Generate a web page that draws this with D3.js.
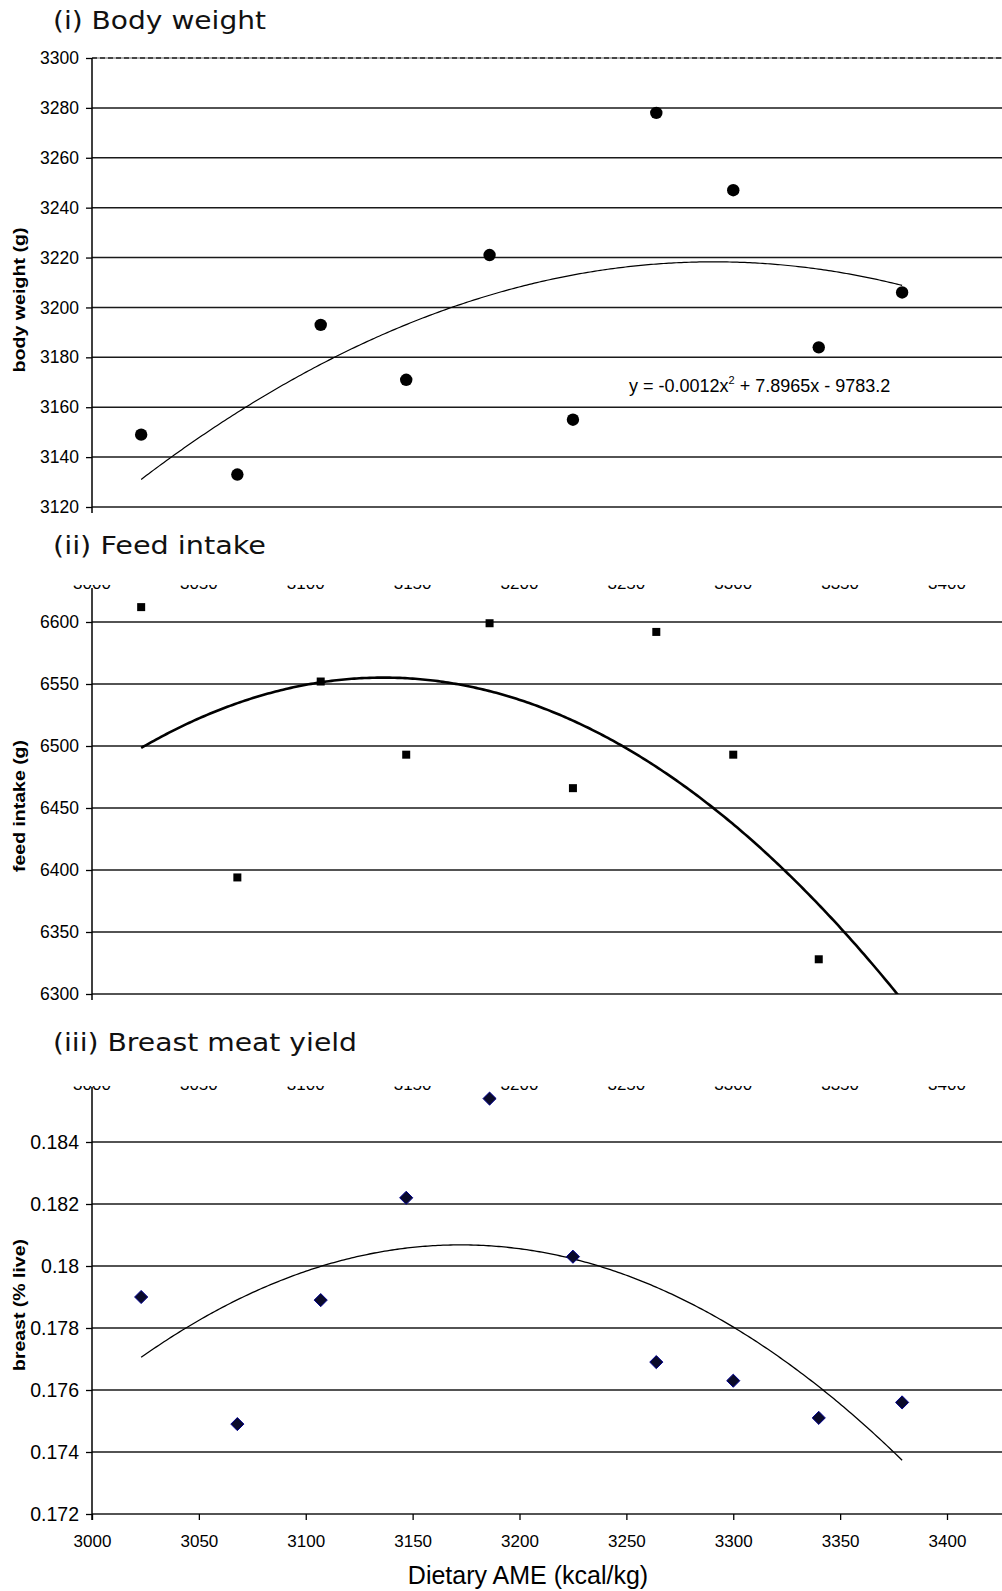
<!DOCTYPE html>
<html>
<head>
<meta charset="utf-8">
<script src="https://cdn.jsdelivr.net/npm/d3@7"></script>
<style>
  body { margin: 0; background: #fff; }
  svg { display: block; }
</style>
</head>
<body>
<svg id="chart" width="1002" height="1591"></svg>
<script>
// Dietary AME levels (kcal/kg) of the ten treatments
const dietaryAME = [3023, 3068, 3107, 3147, 3186, 3225, 3264, 3300, 3340, 3379];
// Responses per treatment
const bodyWeight = [3149, 3133, 3193, 3171, 3221, 3155, 3278, 3247, 3184, 3206];
const feedIntake = [6612, 6394, 6552, 6493, 6599, 6466, 6592, 6493, 6328, 6262];
const breastYield = [0.1790, 0.1749, 0.1789, 0.1822, 0.1854, 0.1803, 0.1769, 0.1763, 0.1751, 0.1756];

// Axis ticks
const xTickValues = [3000, 3050, 3100, 3150, 3200, 3250, 3300, 3350, 3400];
const bodyWeightTicks = [3120, 3140, 3160, 3180, 3200, 3220, 3240, 3260, 3280, 3300];
const feedIntakeTicks = [6300, 6350, 6400, 6450, 6500, 6550, 6600];
const breastTicks = [0.172, 0.174, 0.176, 0.178, 0.180, 0.182, 0.184];
const breastTickLabels = ["0.172", "0.174", "0.176", "0.178", "0.18", "0.182", "0.184"];

// Text
const panelTitles = ["(i)  Body weight", "(ii)  Feed intake", "(iii)  Breast meat yield"];
const yAxisTitles = ["body weight (g)", "feed intake (g)", "breast (% live)"];
const xAxisTitle = "Dietary AME (kcal/kg)";
const equationParts = ["y = -0.0012x", "2", " + 7.8965x - 9783.2"];

const svg = d3.select("#chart");
svg.append("rect").attr("width", 1002).attr("height", 1591).attr("fill", "#fff");

const plotLeft = 92, plotRight = 1002;
const x = d3.scaleLinear().domain([3000, 3400]).range([92, 947]);

const panels = [
  { values: bodyWeight, ticks: bodyWeightTicks, labels: bodyWeightTicks.map(String),
    domain: [3120, 3300], range: [507, 58], top: 58, marker: "circle", trendWidth: 1.2,
    tickFont: 17.5,
    title: panelTitles[0], titleY: 29, titleW: 213, yTitle: yAxisTitles[0], yTitleY: 300, yTitleW: 145 },
  { values: feedIntake, ticks: feedIntakeTicks, labels: feedIntakeTicks.map(String),
    domain: [6300, 6600], range: [994, 622], top: 588, marker: "square", trendWidth: 2.6,
    tickFont: 17.5,
    title: panelTitles[1], titleY: 554, titleW: 213, yTitle: yAxisTitles[1], yTitleY: 806, yTitleW: 132,
    cutLabels: 589 },
  { values: breastYield, ticks: breastTicks, labels: breastTickLabels,
    domain: [0.172, 0.184], range: [1514, 1142], top: 1087, marker: "diamond", trendWidth: 1.3,
    tickFont: 19.5,
    title: panelTitles[2], titleY: 1051, titleW: 304, yTitle: yAxisTitles[2], yTitleY: 1305, yTitleW: 132,
    cutLabels: 1090 }
];

// Least-squares quadratic fit (x centred for stability)
function quadFit(xs, ys) {
  const mx = d3.mean(xs);
  const u = xs.map(v => v - mx);
  const s = k => d3.sum(u, v => Math.pow(v, k));
  const t = k => d3.sum(u, (v, i) => Math.pow(v, k) * ys[i]);
  const A = [[s(4), s(3), s(2)], [s(3), s(2), s(1)], [s(2), s(1), u.length]];
  const b = [t(2), t(1), t(0)];
  for (let i = 0; i < 3; i++) {
    for (let j = i + 1; j < 3; j++) {
      const f = A[j][i] / A[i][i];
      for (let k = i; k < 3; k++) A[j][k] -= f * A[i][k];
      b[j] -= f * b[i];
    }
  }
  const c = [0, 0, 0];
  for (let i = 2; i >= 0; i--) {
    let acc = b[i];
    for (let k = i + 1; k < 3; k++) acc -= A[i][k] * c[k];
    c[i] = acc / A[i][i];
  }
  return v => c[0] * (v - mx) * (v - mx) + c[1] * (v - mx) + c[2];
}

panels.forEach((p, idx) => {
  const y = d3.scaleLinear().domain(p.domain).range(p.range);
  const bottom = p.range[0];
  const g = svg.append("g");

  const clipId = "plot-clip-" + idx;
  svg.append("clipPath").attr("id", clipId).append("rect")
    .attr("x", plotLeft).attr("y", p.top - 8)
    .attr("width", plotRight - plotLeft).attr("height", bottom - p.top + 8);

  // Panel title
  g.append("text")
    .attr("x", 53).attr("y", p.titleY)
    .attr("font-family", "DejaVu Sans, Verdana, sans-serif")
    .attr("font-size", 25)
    .attr("textLength", p.titleW).attr("lengthAdjust", "spacingAndGlyphs")
    .attr("fill", "#111")
    .text(p.title);

  // Tick labels of the axis above, cut by the panel edge
  if (p.cutLabels) {
    const cutId = "cut-" + idx;
    svg.append("clipPath").attr("id", cutId).append("rect")
      .attr("x", 0).attr("y", p.cutLabels - 4).attr("width", 1002).attr("height", 5);
    g.append("g").attr("clip-path", `url(#${cutId})`)
      .selectAll("text").data(xTickValues).join("text")
      .attr("x", d => x(d)).attr("y", p.cutLabels)
      .attr("text-anchor", "middle")
      .attr("font-family", "Liberation Sans, Arial, sans-serif")
      .attr("font-size", 17).attr("fill", "#000")
      .text(d => d);
  }

  // Horizontal gridlines
  g.append("g").selectAll("line").data(p.ticks).join("line")
    .attr("x1", plotLeft).attr("x2", plotRight)
    .attr("y1", d => y(d)).attr("y2", d => y(d))
    .attr("stroke", "#1a1a1a").attr("stroke-width", 1.5);

  if (idx === 0) {
    // dashed plot-area border along the top
    g.append("line").attr("x1", plotLeft).attr("x2", plotRight)
      .attr("y1", y(3300)).attr("y2", y(3300))
      .attr("stroke", "#fff").attr("stroke-width", 2);
    g.append("line").attr("x1", plotLeft).attr("x2", plotRight)
      .attr("y1", y(3300)).attr("y2", y(3300))
      .attr("stroke", "#999").attr("stroke-width", 1.5);
    g.append("line").attr("x1", plotLeft).attr("x2", plotRight)
      .attr("y1", y(3300)).attr("y2", y(3300))
      .attr("stroke", "#222").attr("stroke-width", 1.5).attr("stroke-dasharray", "5,3");
  }

  // Left axis
  const axis = d3.axisLeft(y).tickValues(p.ticks)
    .tickFormat((d, i) => p.labels[i]).tickSize(6).tickSizeOuter(0).tickPadding(7);
  const ag = g.append("g").attr("transform", `translate(${plotLeft},0)`).call(axis);
  ag.select(".domain").remove();
  ag.selectAll(".tick line").attr("stroke", "#000").attr("stroke-width", 1.3);
  ag.selectAll(".tick text")
    .attr("font-family", "Liberation Sans, Arial, sans-serif")
    .attr("font-size", p.tickFont).attr("fill", "#000");
  g.append("line").attr("x1", plotLeft).attr("x2", plotLeft)
    .attr("y1", p.top).attr("y2", bottom + 6)
    .attr("stroke", "#000").attr("stroke-width", 1.5);

  // Y axis title
  g.append("text")
    .attr("transform", `translate(25,${p.yTitleY}) rotate(-90)`)
    .attr("text-anchor", "middle")
    .attr("font-family", "Liberation Sans, Arial, sans-serif")
    .attr("font-weight", "bold").attr("font-size", 16)
    .attr("textLength", p.yTitleW).attr("lengthAdjust", "spacingAndGlyphs")
    .attr("fill", "#000")
    .text(p.yTitle);

  // Quadratic trend line
  const fit = quadFit(dietaryAME, p.values);
  const xs = d3.range(0, 301).map(i => dietaryAME[0] + (dietaryAME[9] - dietaryAME[0]) * i / 300);
  g.append("path")
    .attr("clip-path", `url(#${clipId})`)
    .attr("d", d3.line().x(d => x(d)).y(d => y(fit(d)))(xs))
    .attr("fill", "none").attr("stroke", "#000").attr("stroke-width", p.trendWidth);

  // Markers
  const pts = dietaryAME.map((d, i) => [d, p.values[i]]);
  const mg = g.append("g").attr("clip-path", `url(#${clipId})`);
  if (p.marker === "circle") {
    mg.selectAll("circle").data(pts).join("circle")
      .attr("cx", d => x(d[0])).attr("cy", d => y(d[1])).attr("r", 6.2)
      .attr("fill", "#000");
  } else if (p.marker === "square") {
    mg.selectAll("rect").data(pts).join("rect")
      .attr("x", d => x(d[0]) - 4).attr("y", d => y(d[1]) - 4)
      .attr("width", 8).attr("height", 8).attr("fill", "#000");
  } else {
    mg.selectAll("path").data(pts).join("path")
      .attr("d", d3.symbol(d3.symbolDiamond2, 110))
      .attr("transform", d => `translate(${x(d[0])},${y(d[1])})`)
      .attr("fill", "#0a0a2a").attr("stroke", "#000090").attr("stroke-width", 1);
  }

  if (idx === 0) {
    const eq = g.append("text")
      .attr("x", 629).attr("y", 392)
      .attr("font-family", "Liberation Sans, Arial, sans-serif")
      .attr("font-size", 18).attr("fill", "#000");
    eq.append("tspan").text(equationParts[0]);
    eq.append("tspan").attr("dy", -8).attr("font-size", 11).text(equationParts[1]);
    eq.append("tspan").attr("dy", 8).text(equationParts[2]);
  }

  if (idx === 2) {
    // Bottom category axis
    const xAxis = d3.axisBottom(x).tickValues(xTickValues).tickSize(6).tickSizeOuter(0).tickPadding(15)
      .tickFormat(d3.format("d"));
    const xg = g.append("g").attr("transform", `translate(0,${bottom})`).call(xAxis);
    xg.select(".domain").remove();
    xg.selectAll(".tick line").attr("stroke", "#000").attr("stroke-width", 1.3);
    xg.selectAll(".tick text")
      .attr("font-family", "Liberation Sans, Arial, sans-serif")
      .attr("font-size", 17).attr("fill", "#000");
    g.append("text")
      .attr("x", 528).attr("y", 1584)
      .attr("text-anchor", "middle")
      .attr("font-family", "Liberation Sans, Arial, sans-serif")
      .attr("font-size", 25).attr("fill", "#000")
      .text(xAxisTitle);
  }
});
</script>
</body>
</html>
